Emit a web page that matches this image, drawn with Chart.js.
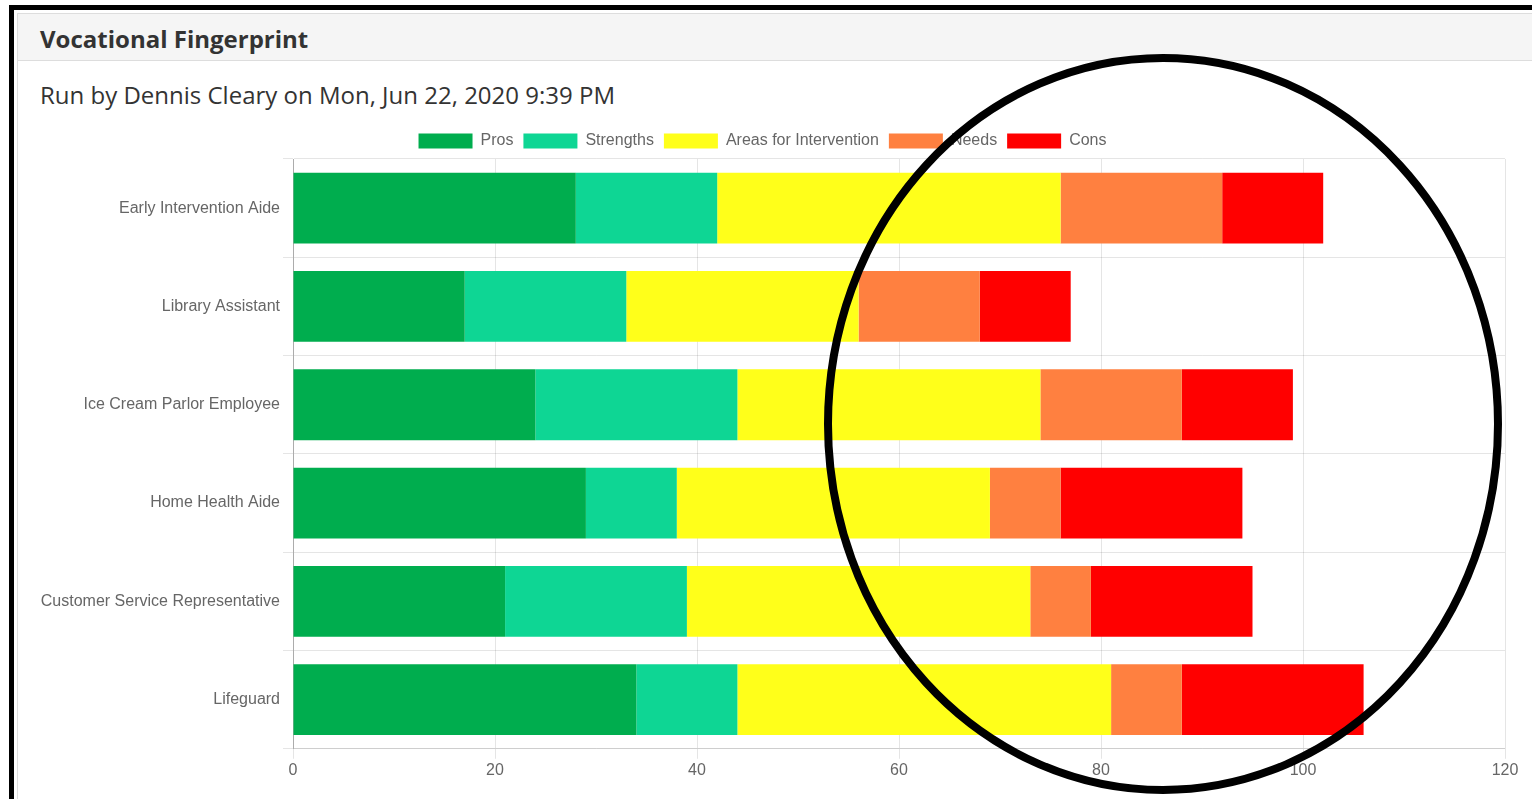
<!DOCTYPE html>
<html>
<head>
<meta charset="utf-8">
<title>Vocational Fingerprint</title>
<script src="https://cdn.jsdelivr.net/npm/chart.js@4/dist/chart.umd.min.js"></script>
<style>
  html, body { margin: 0; padding: 0; background: #fff; overflow: hidden; }
  body { width: 1532px; height: 799px; position: relative; }
  .frame-top { position: absolute; left: 9px; top: 5px; width: 1523px; height: 5px; background: #000; }
  .frame-left { position: absolute; left: 9px; top: 5px; width: 5px; height: 794px; background: #000; }
  .panel { position: absolute; left: 17px; top: 13px; width: 1530px; height: 800px; border: 1px solid #ddd; background: #fff; }
  .panel-heading {
    height: 47px; background: #f5f5f5; border-bottom: 1px solid #ddd;
    font: bold 24px "Open Sans", sans-serif; color: #333;
    line-height: 50px; padding-left: 22px; box-sizing: border-box;
  }
  .run-info {
    position: absolute; left: 40px; top: 78px;
    font: 24px "Open Sans", sans-serif; color: #333;
  }
  .chart-box { position: absolute; left: 20px; top: 123px; width: 1512px; height: 676px; }
  .ring { position: absolute; left: 0; top: 0; pointer-events: none; }
</style>
</head>
<body>
<div class="frame-top"></div>
<div class="frame-left"></div>
<div class="panel">
  <div class="panel-heading">Vocational Fingerprint</div>
</div>
<div class="run-info">Run by Dennis Cleary on Mon, Jun 22, 2020 9:39 PM</div>
<div class="chart-box"><canvas id="chart"></canvas></div>
<svg class="ring" width="1532" height="799">
  <ellipse cx="1163" cy="424" rx="335" ry="366" fill="none" stroke="#000" stroke-width="8"/>
</svg>

<script>
const jobs = ['Early Intervention Aide', 'Library Assistant', 'Ice Cream Parlor Employee',
  'Home Health Aide', 'Customer Service Representative', 'Lifeguard'];
const pros = [28, 17, 24, 29, 21, 34];
const strengths = [14, 16, 20, 9, 18, 10];
const areas = [34, 23, 30, 31, 34, 37];
const needs = [16, 12, 14, 7, 6, 7];
const cons = [10, 9, 11, 18, 16, 18];
const xTicks = [0, 20, 40, 60, 80, 100, 120];

const font = { family: '"Liberation Sans", Arial, Helvetica, sans-serif', size: 16 };
const grid = 'rgba(0,0,0,0.1)';

function series(label, data, color) {
  return { label, data, backgroundColor: color, borderColor: color, borderWidth: 0 };
}

new Chart(document.getElementById('chart'), {
  type: 'bar',
  data: {
    labels: jobs,
    datasets: [
      series('Pros', pros, '#00ad4e'),
      series('Strengths', strengths, '#0ed694'),
      series('Areas for Intervention', areas, '#ffff1a'),
      series('Needs', needs, '#ff8040'),
      series('Cons', cons, '#ff0000')
    ]
  },
  options: {
    indexAxis: 'y',
    responsive: true,
    maintainAspectRatio: false,
    animation: false,
    layout: { padding: { top: 0, right: 27, bottom: 17, left: 0 } },
    datasets: { bar: { barPercentage: 0.9, categoryPercentage: 0.8 } },
    plugins: {
      tooltip: { enabled: false },
      legend: {
        labels: { boxWidth: 54, boxHeight: 15, padding: 10, color: '#666', font: font }
      }
    },
    scales: {
      x: {
        stacked: true,
        min: 0,
        max: 120,
        afterBuildTicks: scale => { scale.ticks = xTicks.map(v => ({ value: v })); },
        grid: { color: grid, tickLength: 10 },
        border: { color: grid },
        ticks: { color: '#666', font: font, padding: 2, maxRotation: 0 }
      },
      y: {
        stacked: true,
        afterFit: scale => { scale.width = 273; },
        grid: { color: grid, tickLength: 10, offset: true },
        border: { color: 'rgba(0,0,0,0.25)' },
        ticks: { color: '#666', font: font, padding: 3 }
      }
    }
  }
});
</script>
</body>
</html>
